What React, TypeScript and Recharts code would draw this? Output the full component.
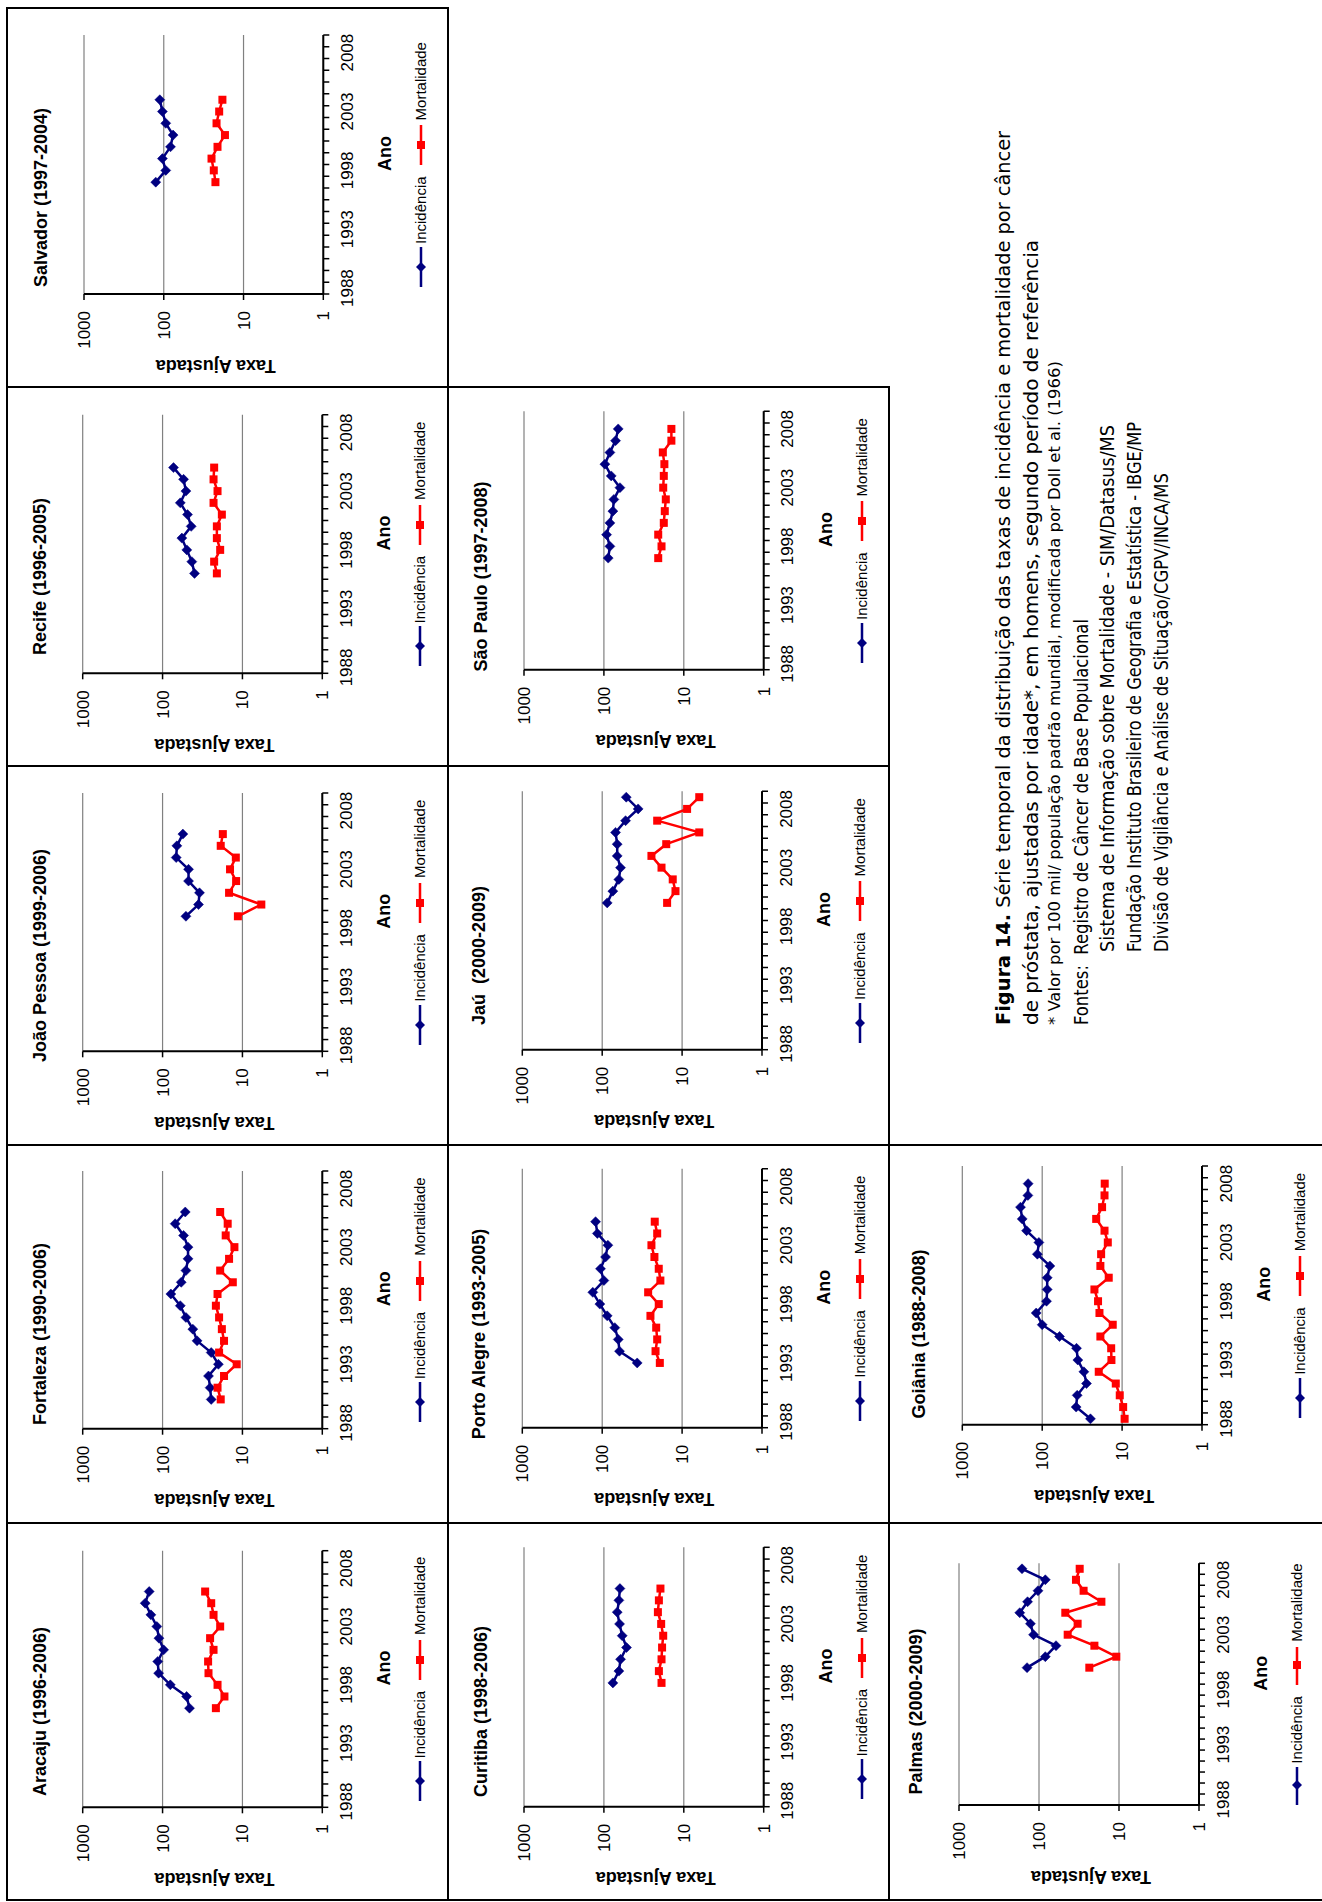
import React from "react";
import { LineChart, Line, XAxis, YAxis, CartesianGrid, Legend } from "recharts";

// ---------- data ----------
const YEARS = [1988, 1989, 1990, 1991, 1992, 1993, 1994, 1995, 1996, 1997, 1998, 1999, 2000, 2001, 2002, 2003, 2004, 2005, 2006, 2007, 2008, 2009];
const YEAR_LABELS = [1988, 1993, 1998, 2003, 2008];
const VALUE_TICKS = [1, 10, 100, 1000];

const ARACAJU_START = 1996;
const ARACAJU_INC = [46, 50, 80, 112, 115, 97, 111, 118, 140, 165, 147];
const ARACAJU_MORT = [21.5, 16.8, 20.5, 26.6, 26.9, 23, 25.4, 19, 23, 24.6, 29.3];

const FORTALEZA_START = 1990;
const FORTALEZA_INC = [24.6, 25.4, 26.6, 20, 24.6, 37, 41.8, 51, 60, 78.7, 58.4, 51, 48, 48, 54.6, 69.5, 52];
const FORTALEZA_MORT = [18.7, 20.5, 17, 11.8, 19.6, 17, 18.1, 19.6, 21.5, 20.5, 13.2, 19, 14.7, 12.6, 16.2, 15.3, 19];

const JOAO_PESSOA_START = 1999;
const JOAO_PESSOA_INC = [51, 35.5, 34.5, 47.3, 47.3, 67.5, 66.2, 55.7];
const JOAO_PESSOA_MORT = [11.4, 5.8, 14.7, 12, 14.3, 12.1, 18.7, 17.6];

const RECIFE_START = 1996;
const RECIFE_INC = [39.8, 43, 49.7, 57.3, 43.8, 48.7, 60, 51, 54.6, 72.9];
const RECIFE_MORT = [20.9, 22.6, 19, 20.9, 20.9, 18.1, 23, 20.5, 23, 22.6];

const SALVADOR_START = 1997;
const SALVADOR_INC = [126, 94.4, 104, 82.4, 76.4, 94.4, 104, 112];
const SALVADOR_MORT = [22.5, 23.6, 25.2, 21.2, 17.1, 21.8, 20.2, 18.4];

const CURITIBA_START = 1998;
const CURITIBA_INC = [77.2, 64.9, 61.9, 52.1, 59, 63.7, 68.1, 64.9, 63];
const CURITIBA_MORT = [19, 20.5, 19, 18.7, 18.1, 19.2, 21.1, 20.5, 19.6];

const PORTO_ALEGRE_START = 1993;
const PORTO_ALEGRE_INC = [36.5, 60.7, 63, 69.5, 86.6, 107, 131, 95.3, 105, 90.8, 84.9, 115, 121];
const PORTO_ALEGRE_MORT = [19, 21.5, 20.5, 21.1, 24.9, 19.6, 26.6, 18.7, 19.6, 22.2, 24.2, 20.5, 22];

const JAU_START = 2000;
const JAU_INC = [86.6, 73.6, 61.9, 59, 64.9, 64.9, 68.1, 51, 35.5, 50];
const JAU_MORT = [15.4, 12.1, 13.1, 18.1, 24.2, 15.8, 6.1, 20.5, 8.66, 6.1];

const SAO_PAULO_START = 1997;
const SAO_PAULO_INC = [88.3, 84.1, 92.6, 84.1, 77.2, 75, 63, 81, 97.2, 84.1, 71.5, 66.2];
const SAO_PAULO_MORT = [20.9, 19, 20.9, 17.8, 17.3, 16.8, 18.1, 17.8, 17.5, 18.3, 14.3, 14.3];

const PALMAS_START = 2000;
const PALMAS_INC = [141, 83.4, 61.3, 117, 128, 174, 139, 103, 83.4, 163];
const PALMAS_MORT = [23.5, 10.8, 20.3, 43.8, 32.9, 46.9, 16.6, 27.7, 34.5, 31];

const GOIANIA_START = 1988;
const GOIANIA_INC = [24.9, 37.6, 36.5, 27.9, 30.1, 35.8, 37.2, 60.7, 100, 119, 88.3, 86.6, 86.6, 80.2, 115, 110, 157, 178, 187, 151, 150];
const GOIANIA_MORT = [9.3, 9.7, 10.7, 12, 19.6, 13.6, 13.7, 18.7, 13.1, 19.2, 20, 22.2, 14.7, 18.7, 18.3, 15.1, 16.6, 21.1, 17.8, 16.6, 16.5];

const CAPTION_LINES = [
  "Série temporal da distribuição das taxas de incidência e mortalidade por câncer",
  "de próstata, ajustadas por idade*, em homens, segundo período de referência",
  "* Valor por 100 mil/ população padrão mundial, modificada por Doll et al. (1966)",
  "Fontes:  Registro de Câncer de Base Populacional",
  "Sistema de Informação sobre Mortalidade - SIM/Datasus/MS",
  "Fundação Instituto Brasileiro de Geografia e Estatística - IBGE/MP",
  "Divisão de Vigilância e Análise de Situação/CGPV/INCA/MS",
];
const CAPTION_BOLD = "Figura 14.";

// ---------- styles / layout ----------
const FONT = '"Liberation Sans", Arial, Helvetica, sans-serif';
const CAP_FONT = '"Liberation Sans Narrow", "DejaVu Sans Condensed", "Roboto Condensed", "Liberation Sans", Arial, sans-serif';
const NAVY = "#000080";
const RED = "#FF0000";
const BOUNDARY_TICKS = [...YEARS.map((y) => y - 0.5), YEARS[YEARS.length - 1] + 0.5];
const X_DOMAIN: [number, number] = [YEARS[0] - 0.5, YEARS[YEARS.length - 1] + 0.5];
const XLAB_H = 40;

type Box = { u: number; v: number; w: number; h: number };
type PlotR = { l: number; r: number; t: number; b: number };
type PanelDef = { title: string; start: number; inc: number[]; mort: number[]; box: Box; plot: PlotR };

const PANELS: PanelDef[] = [
  { title: "Aracaju (1996-2006)", start: ARACAJU_START, inc: ARACAJU_INC, mort: ARACAJU_MORT, box: { u: 2, v: 7, w: 377, h: 441 }, plot: { l: 92.7, r: 349.3, t: 75.7, b: 315.3 } },
  { title: "Fortaleza (1990-2006)", start: FORTALEZA_START, inc: FORTALEZA_INC, mort: FORTALEZA_MORT, box: { u: 379, v: 7, w: 378, h: 441 }, plot: { l: 94.3, r: 352, t: 75.7, b: 315.3 } },
  { title: "João Pessoa (1999-2006)", start: JOAO_PESSOA_START, inc: JOAO_PESSOA_INC, mort: JOAO_PESSOA_MORT, box: { u: 757, v: 7, w: 379, h: 441 }, plot: { l: 93.7, r: 352, t: 75.7, b: 315.3 } },
  { title: "Recife (1996-2005)", start: RECIFE_START, inc: RECIFE_INC, mort: RECIFE_MORT, box: { u: 1136, v: 7, w: 379, h: 441 }, plot: { l: 92.7, r: 351.3, t: 75.7, b: 315.3 } },
  { title: "Salvador (1997-2004)", start: SALVADOR_START, inc: SALVADOR_INC, mort: SALVADOR_MORT, box: { u: 1515, v: 7, w: 379, h: 441 }, plot: { l: 93, r: 352, t: 77, b: 316.3 } },
  { title: "Curitiba (1998-2006)", start: CURITIBA_START, inc: CURITIBA_INC, mort: CURITIBA_MORT, box: { u: 2, v: 448, w: 377, h: 441 }, plot: { l: 93.3, r: 352.7, t: 76, b: 315.7 } },
  { title: "Porto Alegre (1993-2005)", start: PORTO_ALEGRE_START, inc: PORTO_ALEGRE_INC, mort: PORTO_ALEGRE_MORT, box: { u: 379, v: 448, w: 378, h: 441 }, plot: { l: 95.3, r: 354.3, t: 74.3, b: 314 } },
  { title: "Jaú  (2000-2009)", start: JAU_START, inc: JAU_INC, mort: JAU_MORT, box: { u: 757, v: 448, w: 379, h: 441 }, plot: { l: 95.3, r: 353.7, t: 74.3, b: 314 } },
  { title: "São Paulo (1997-2008)", start: SAO_PAULO_START, inc: SAO_PAULO_INC, mort: SAO_PAULO_MORT, box: { u: 1136, v: 448, w: 379, h: 441 }, plot: { l: 96.3, r: 354.7, t: 76, b: 315.7 } },
  { title: "Palmas (2000-2009)", start: PALMAS_START, inc: PALMAS_INC, mort: PALMAS_MORT, box: { u: 2, v: 889, w: 377, h: 433 }, plot: { l: 95, r: 336.7, t: 70, b: 310 } },
  { title: "Goiânia (1988-2008)", start: GOIANIA_START, inc: GOIANIA_INC, mort: GOIANIA_MORT, box: { u: 379, v: 889, w: 378, h: 433 }, plot: { l: 98.3, r: 357, t: 73.3, b: 313 } },
];

const CAPTION_LAYOUT = [
  { x: 877, y: 1010, len: 894, size: 20 },
  { x: 877, y: 1038, len: 785, size: 20 },
  { x: 877, y: 1060, len: 664, size: 15 },
  { x: 877, y: 1088, len: 406, size: 19 },
  { x: 950, y: 1114, len: 527, size: 19 },
  { x: 950, y: 1141, len: 530, size: 19 },
  { x: 950, y: 1168, len: 479, size: 19 },
];

// ---------- marks ----------
function Diamond(props: any) {
  const { cx, cy } = props;
  if (cx == null || cy == null || isNaN(cx) || isNaN(cy)) return <g />;
  return <path d={`M${cx},${cy - 5}L${cx + 5},${cy}L${cx},${cy + 5}L${cx - 5},${cy}Z`} fill={NAVY} stroke={NAVY} strokeWidth={0.5} />;
}
function Square(props: any) {
  const { cx, cy } = props;
  if (cx == null || cy == null || isNaN(cx) || isNaN(cy)) return <g />;
  return <rect x={cx - 4} y={cy - 4} width={8} height={8} fill={RED} />;
}

// Year labels sit in the middle of a category (between two boundary ticks)
function YearTick(props: any) {
  const { x, y, payload, half } = props;
  const year = payload && payload.value + 0.5;
  if (!YEAR_LABELS.includes(year)) return <g />;
  return (
    <text x={x + half} y={y} dy="0.71em" textAnchor="middle" fontFamily={FONT} fontSize={17} fill="#000">
      {year}
    </text>
  );
}

function LegendBox() {
  return (
    <div style={{ display: "flex", justifyContent: "center", alignItems: "center", fontFamily: FONT, fontSize: 15, color: "#000", lineHeight: "18px", whiteSpace: "nowrap" }}>
      <svg width={40} height={14} style={{ display: "block" }}>
        <line x1={0} y1={7} x2={40} y2={7} stroke={NAVY} strokeWidth={2.5} />
        <path d="M20,2L25,7L20,12L15,7Z" fill={NAVY} />
      </svg>
      <span style={{ marginLeft: 3 }}>Incidência</span>
      <svg width={40} height={14} style={{ display: "block", marginLeft: 11 }}>
        <line x1={0} y1={7} x2={40} y2={7} stroke={RED} strokeWidth={2.5} />
        <rect x={16} y={3} width={8} height={8} fill={RED} />
      </svg>
      <span style={{ marginLeft: 5 }}>Mortalidade</span>
    </div>
  );
}

function AnoLabel(props: any) {
  const vb = props.viewBox || {};
  const cx = vb.x + vb.width / 2 + 11;
  const cy = vb.y + 62;
  return (
    <text x={cx} y={cy} textAnchor="middle" dominantBaseline="central" fontFamily={FONT} fontWeight="bold" fontSize={18} fill="#000">
      Ano
    </text>
  );
}
function TaxaLabel(props: any) {
  const vb = props.viewBox || {};
  const cx = vb.x + vb.width - 71.5;
  const cy = vb.y + vb.height / 2 + 12;
  return (
    <text x={cx} y={cy} transform={`rotate(-90 ${cx} ${cy})`} textAnchor="middle" dominantBaseline="central" fontFamily={FONT} fontWeight="bold" fontSize={18} fill="#000">
      Taxa Ajustada
    </text>
  );
}

function Panel({ d }: { d: PanelDef }) {
  const { box, plot } = d;
  const data = d.inc.map((v, i) => ({ year: d.start + i, inc: v, mort: d.mort[i] }));
  const pw = plot.r - plot.l;
  const half = pw / YEARS.length / 2;
  const axisStyle = { stroke: "#000", strokeWidth: 2 };
  const tickStyle = { fill: "#000", fontSize: 17, fontFamily: FONT };
  return (
    <div style={{ position: "absolute", left: box.u, top: box.v, width: box.w, height: box.h }}>
      <div
        style={{
          position: "absolute",
          left: 0,
          top: plot.t - 43 - 11,
          width: box.w,
          textAlign: "center",
          fontFamily: FONT,
          fontWeight: "bold",
          fontSize: 18,
          lineHeight: "22px",
          whiteSpace: "pre",
          color: "#000",
        }}
      >
        {d.title}
      </div>
      <div style={{ position: "absolute", left: 0, top: 0 }}>
        <LineChart width={box.w} height={box.h} data={data} margin={{ top: plot.t, right: box.w - plot.r, left: 0, bottom: box.h - plot.b - XLAB_H }}>
          <CartesianGrid horizontal vertical={false} stroke="#808080" strokeWidth={1.2} />
          <XAxis
            dataKey="year"
            type="number"
            domain={X_DOMAIN}
            ticks={BOUNDARY_TICKS}
            allowDataOverflow
            interval={0}
            tickSize={6}
            tickMargin={11.7}
            height={XLAB_H}
            axisLine={axisStyle}
            tickLine={{ stroke: "#000", strokeWidth: 1.5 }}
            tick={(p: any) => <YearTick {...p} half={half} />}
            label={(p: any) => <AnoLabel {...p} />}
          />
          <YAxis
            type="number"
            scale="log"
            domain={[1, 1000]}
            ticks={VALUE_TICKS}
            allowDataOverflow
            interval={0}
            width={plot.l}
            tickSize={6}
            tickMargin={11}
            axisLine={axisStyle}
            tickLine={{ stroke: "#000", strokeWidth: 1.5 }}
            tick={tickStyle}
            label={(p: any) => <TaxaLabel {...p} />}
          />
          <Legend
            layout="horizontal"
            verticalAlign="middle"
            align="center"
            content={() => <LegendBox />}
            wrapperStyle={{ top: plot.b + 98 - 9, left: plot.l, width: pw, height: 18 }}
          />
          <Line dataKey="inc" name="Incidência" stroke={NAVY} strokeWidth={2.5} dot={(p: any) => <Diamond key={`i${p.index}`} {...p} />} isAnimationActive={false} />
          <Line dataKey="mort" name="Mortalidade" stroke={RED} strokeWidth={2.5} dot={(p: any) => <Square key={`m${p.index}`} {...p} />} isAnimationActive={false} />
        </LineChart>
      </div>
    </div>
  );
}

function Frame() {
  const sw = 2;
  const H = [
    { v: 7, u1: 2, u2: 1894 },
    { v: 448, u1: 2, u2: 1894 },
    { v: 889, u1: 2, u2: 1515 },
  ];
  const V = [
    { u: 2, v1: 7, v2: 1322 },
    { u: 379, v1: 7, v2: 1322 },
    { u: 757, v1: 7, v2: 1322 },
    { u: 1136, v1: 7, v2: 889 },
    { u: 1515, v1: 7, v2: 889 },
    { u: 1894, v1: 7, v2: 448 },
  ];
  return (
    <svg width={1902} height={1322} style={{ position: "absolute", left: 0, top: 0 }}>
      {H.map((l, i) => (
        <line key={`h${i}`} x1={l.u1 - 1} x2={l.u2 + 1} y1={l.v} y2={l.v} stroke="#000" strokeWidth={sw} />
      ))}
      {V.map((l, i) => (
        <line key={`v${i}`} x1={l.u} x2={l.u} y1={l.v1 - 1} y2={l.v2 + 1} stroke="#000" strokeWidth={sw} />
      ))}
      {CAPTION_LINES.map((t, i) => {
        const c = CAPTION_LAYOUT[i];
        return (
          <text key={`c${i}`} x={c.x} y={c.y} fontFamily={CAP_FONT} fontSize={c.size} fill="#000" textLength={c.len} lengthAdjust="spacingAndGlyphs" xmlSpace="preserve">
            {i === 0 ? (
              <>
                <tspan fontWeight="bold">{CAPTION_BOLD}</tspan>
                <tspan>{" " + t}</tspan>
              </>
            ) : (
              t
            )}
          </text>
        );
      })}
    </svg>
  );
}

export default function App() {
  return (
    <div
      style={{
        position: "absolute",
        left: 0,
        top: 0,
        width: 1902,
        height: 1322,
        background: "#fff",
        transformOrigin: "0 0",
        transform: "translateY(1902px) rotate(-90deg)",
        overflow: "hidden",
      }}
    >
      <Frame />
      {PANELS.map((p, i) => (
        <Panel key={i} d={p} />
      ))}
    </div>
  );
}
